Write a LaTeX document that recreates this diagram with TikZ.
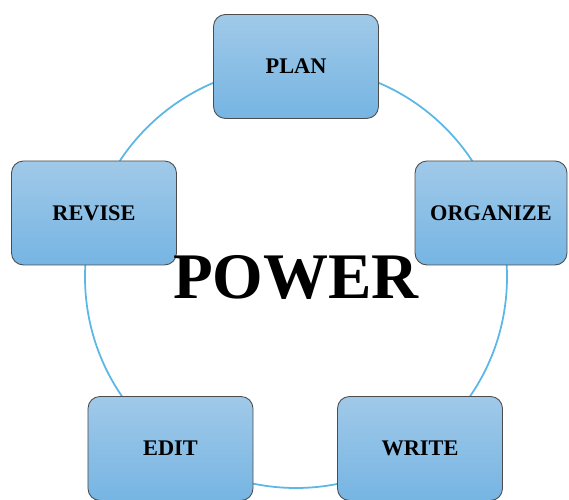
\documentclass[tikz,border=0pt]{standalone}
\usepackage{fontspec}
\setmainfont{Liberation Serif}
\usepackage[x11names]{xcolor}

\definecolor{ringblue}{RGB}{91,183,229}
\definecolor{boxtop}{RGB}{160,201,232}
\definecolor{boxbottom}{RGB}{118,181,227}

\tikzset{
  stage/.style={draw=gray!60!black, line width=0.5pt, rounded corners=0.24cm,
    top color=boxtop, bottom color=boxbottom,
    minimum width=3.3cm, minimum height=2.08cm,
    font=\fontsize{12.7}{15}\selectfont\bfseries}
}

\begin{document}
\begin{tikzpicture}

      \useasboundingbox (-5.92,-4.46) rectangle (5.46,5.54);

      \draw[ringblue, line width=1pt] (0,0) circle[radius=4.22];

      \node[stage] (plan) at (0,4.21) {PLAN};
      \node[stage, minimum width=3.04cm] (organize) at (3.9,1.28) {ORGANIZE};
      \node[stage] (write) at (2.48,-3.43) {WRITE};
      \node[stage] (edit) at (-2.51,-3.43) {EDIT};
      \node[stage] (revise) at (-4.04,1.28) {REVISE};

      \node[black, font=\fontsize{37}{40}\selectfont\bfseries] (power) at (0,0) {POWER};

    \end{tikzpicture}
\end{document}
